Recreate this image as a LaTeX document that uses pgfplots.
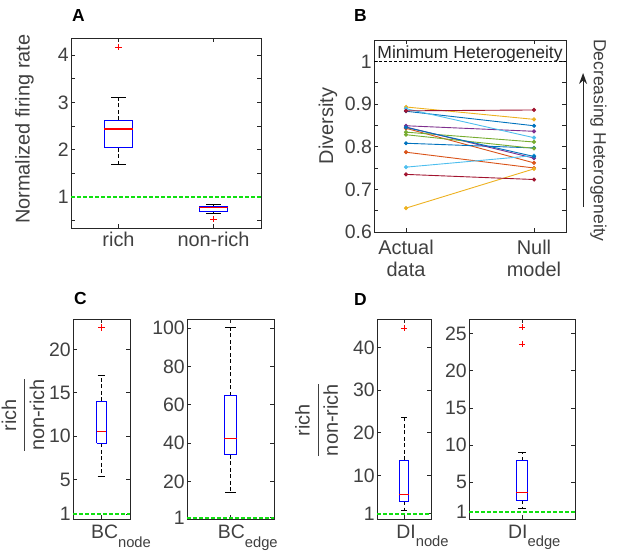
\documentclass[border=0pt]{standalone}
\usepackage{fontspec}
\setmainfont{Liberation Sans}
\usepackage{amsmath}
\usepackage{pgfplots}
\pgfplotsset{compat=1.18}
\usetikzlibrary{arrows.meta}

\definecolor{axc}{HTML}{262626}
\definecolor{txt}{HTML}{404040}
\definecolor{grnline}{HTML}{10E010}
\definecolor{m1}{HTML}{0072BD}
\definecolor{m2}{HTML}{D95319}
\definecolor{m3}{HTML}{EDB120}
\definecolor{m4}{HTML}{7E2F8E}
\definecolor{m5}{HTML}{77AC30}
\definecolor{m6}{HTML}{4DBEEE}
\definecolor{m7}{HTML}{A2142F}

\newcommand{\ticksize}{\fontsize{19.5}{21.5}\selectfont}
\newcommand{\labsize}{\fontsize{20}{22}\selectfont}
\newcommand{\sub}[1]{\raisebox{-8.4bp}{\fontsize{14.8}{16}\selectfont #1}}
\newcommand{\ratio}{$\dfrac{\text{rich}}{\text{non-rich}}$}

\pgfplotsset{
  mlax/.style={
    scale only axis, clip=false, anchor=north west,
    axis line style={draw=axc, line width=0.9bp},
    every tick/.style={draw=axc, line width=0.9bp},
    tick align=inside,
    major tick length=4bp, minor tick length=4bp,
    tick label style={font=\ticksize, text=txt},
    yticklabel style={inner xsep=2bp},
    xticklabel style={inner ysep=4bp},
    label style={font=\labsize, text=txt},
    /pgf/number format/assume math mode=true,
  },
  bx/.style={draw=blue, line width=1.1bp, no marks},
  md/.style={draw=red, line width=1.2bp, no marks},
  wh/.style={draw=black, line width=1bp, dash pattern=on 4bp off 2.5bp, no marks},
  cap/.style={draw=black, line width=1bp, no marks},
  ol/.style={only marks, mark=+, red, mark size=3.2bp, line width=0.9bp},
  unity/.style={draw=grnline, line width=1.7bp, dash pattern=on 3.5bp off 2.5bp, no marks},
  ln/.style={line width=0.9bp, mark=*, mark size=1.6bp, mark options={solid}},
}

\begin{document}
\begin{tikzpicture}
\path[use as bounding box] (0,0) rectangle (640bp,-555bp);

% panel letters
\node[anchor=base west, inner sep=0, font=\fontsize{17.5}{20}\selectfont\bfseries] at (72bp,-21.7bp) {A};
\node[anchor=base west, inner sep=0, font=\fontsize{17.5}{20}\selectfont\bfseries] at (354bp,-21.7bp) {B};
\node[anchor=base west, inner sep=0, font=\fontsize{17.5}{20}\selectfont\bfseries] at (74bp,-304bp) {C};
\node[anchor=base west, inner sep=0, font=\fontsize{17.5}{20}\selectfont\bfseries] at (354bp,-305bp) {D};

% A
\begin{axis}[mlax, at={(71bp,-38bp)}, width=190bp, height=190bp,
  xmin=0.5, xmax=2.5, ymin=0.35, ymax=4.36,
  xtick={1,2}, xticklabels={rich,non-rich},
  xticklabel style={font=\labsize},
  ytick={1,2,3,4}, minor ytick={0.5,1.5,2.5,3.5},
  ylabel={Normalized firing rate},
  ylabel style={at={(axis description cs:-0.245,0.52)}, anchor=center}]
% rich
\addplot[wh] coordinates {(1,2.62)(1,3.11)};
\addplot[wh] coordinates {(1,2.04)(1,1.70)};
\addplot[cap] coordinates {(0.925,1.70)(1.075,1.70)};
\addplot[cap] coordinates {(0.925,3.11)(1.075,3.11)};
\addplot[bx] coordinates {(0.85,2.04)(1.15,2.04)(1.15,2.62)(0.85,2.62)(0.85,2.04)};
\addplot[md] coordinates {(0.85,2.44)(1.15,2.44)};
\addplot[ol] coordinates {(1,4.17)};
% non-rich
\addplot[wh] coordinates {(2,0.81)(2,0.85)};
\addplot[wh] coordinates {(2,0.70)(2,0.66)};
\addplot[cap] coordinates {(1.925,0.66)(2.075,0.66)};
\addplot[cap] coordinates {(1.925,0.85)(2.075,0.85)};
\addplot[bx] coordinates {(1.85,0.70)(2.15,0.70)(2.15,0.81)(1.85,0.81)(1.85,0.70)};
\addplot[md] coordinates {(1.85,0.78)(2.15,0.78)};
\addplot[ol] coordinates {(2,0.54)};
\addplot[unity] coordinates {(0.5,1)(2.5,1)};
\end{axis}

% B
\begin{axis}[mlax, at={(374bp,-40bp)}, width=192bp, height=192bp,
  xmin=0.75, xmax=2.25, ymin=0.6, ymax=1.05,
  xtick={1,2}, xticklabels={{Actual\\data},{Null\\model}},
  xticklabel style={align=center, inner ysep=8bp, font=\fontsize{20}{21.5}\selectfont},
  ytick={0.6,0.7,0.8,0.9,1}, minor ytick={0.65,0.75,0.85,0.95},
  ylabel={Diversity},
  ylabel style={at={(axis description cs:-0.24,0.552)}, anchor=center}]
\addplot[black, line width=0.9bp, dash pattern=on 3bp off 2bp] coordinates {(0.75,1)(2.25,1)};
\addplot[ln, m1] coordinates {(1,0.883)(2,0.849)};
\addplot[ln, m2] coordinates {(1,0.843)(2,0.762)};
\addplot[ln, m3] coordinates {(1,0.893)(2,0.864)};
\addplot[ln, m4] coordinates {(1,0.849)(2,0.836)};
\addplot[ln, m5] coordinates {(1,0.834)(2,0.811)};
\addplot[ln, m6] coordinates {(1,0.889)(2,0.821)};
\addplot[ln, m7] coordinates {(1,0.884)(2,0.886)};
\addplot[ln, m1] coordinates {(1,0.808)(2,0.797)};
\addplot[ln, m2] coordinates {(1,0.787)(2,0.750)};
\addplot[ln, m3] coordinates {(1,0.656)(2,0.748)};
\addplot[ln, m4] coordinates {(1,0.846)(2,0.773)};
\addplot[ln, m5] coordinates {(1,0.828)(2,0.796)};
\addplot[ln, m6] coordinates {(1,0.752)(2,0.779)};
\addplot[ln, m7] coordinates {(1,0.735)(2,0.723)};
\addplot[ln, m1] coordinates {(1,0.845)(2,0.777)};
\node[anchor=base, inner sep=0, font=\fontsize{17.6}{20}\selectfont, text=black!85]
  at (axis cs:1.5,1) [yshift=2.5bp] {Minimum Heterogeneity};
\draw[-{Stealth[length=11bp,width=8bp]}, line width=1.1bp, draw=axc]
  (rel axis cs:1.089,0.13) -- (rel axis cs:1.089,0.828);
\node[rotate=-90, inner sep=0, font=\fontsize{17.6}{20}\selectfont, text=txt]
  at (rel axis cs:1.169,0.477) {Decreasing Heterogeneity};
\end{axis}

% C left
\begin{axis}[mlax, at={(73bp,-319bp)}, width=57bp, height=200bp,
  xmin=0.5, xmax=1.5, ymin=0.45, ymax=23.5,
  xtick={1}, xticklabels={BC\sub{node}},
  xticklabel style={xshift=19.5bp, inner ysep=6bp},
  ytick={1,5,10,15,20},
  ylabel={\ratio},
  ylabel style={at={(axis description cs:-0.877,0.52)}, anchor=center}]
\addplot[wh] coordinates {(1,14.03)(1,17.0)};
\addplot[wh] coordinates {(1,9.16)(1,5.3)};
\addplot[cap] coordinates {(0.93,5.3)(1.07,5.3)};
\addplot[cap] coordinates {(0.93,17.0)(1.07,17.0)};
\addplot[bx] coordinates {(0.9125,9.16)(1.0875,9.16)(1.0875,14.03)(0.9125,14.03)(0.9125,9.16)};
\addplot[md] coordinates {(0.9125,10.5)(1.0875,10.5)};
\addplot[ol] coordinates {(1,22.5)};
\addplot[unity] coordinates {(0.5,1)(1.5,1)};
\end{axis}

% C right
\begin{axis}[mlax, at={(187bp,-319bp)}, width=87bp, height=200bp,
  xmin=0.5, xmax=1.5, ymin=0.44, ymax=104.7,
  xtick={1}, xticklabels={BC\sub{edge}},
  xticklabel style={xshift=17.3bp, inner ysep=6bp},
  ytick={1,20,40,60,80,100}]
\addplot[wh] coordinates {(1,64.7)(1,100.3)};
\addplot[wh] coordinates {(1,33.9)(1,14.3)};
\addplot[cap] coordinates {(0.9425,14.3)(1.0575,14.3)};
\addplot[cap] coordinates {(0.9425,100.3)(1.0575,100.3)};
\addplot[bx] coordinates {(0.9275,33.9)(1.0725,33.9)(1.0725,64.7)(0.9275,64.7)(0.9275,33.9)};
\addplot[md] coordinates {(0.9275,42.4)(1.0725,42.4)};
\addplot[unity] coordinates {(0.5,1)(1.5,1)};
\end{axis}

% D left
\begin{axis}[mlax, at={(377bp,-319bp)}, width=54bp, height=200bp,
  xmin=0.5, xmax=1.5, ymin=-0.2, ymax=46.7,
  xtick={1}, xticklabels={DI\sub{node}},
  xticklabel style={xshift=18.5bp, inner ysep=6bp},
  ytick={1,10,20,30,40},
  ylabel={\ratio},
  ylabel style={at={(axis description cs:-1.117,0.495)}, anchor=center}]
\addplot[wh] coordinates {(1,13.6)(1,23.5)};
\addplot[wh] coordinates {(1,4.0)(1,1.8)};
\addplot[cap] coordinates {(0.9475,1.8)(1.0525,1.8)};
\addplot[cap] coordinates {(0.9475,23.5)(1.0525,23.5)};
\addplot[bx] coordinates {(0.9125,4.0)(1.0875,4.0)(1.0875,13.6)(0.9125,13.6)(0.9125,4.0)};
\addplot[md] coordinates {(0.9125,5.6)(1.0875,5.6)};
\addplot[ol] coordinates {(1,44.6)};
\addplot[unity] coordinates {(0.5,1)(1.5,1)};
\end{axis}

% D right
\begin{axis}[mlax, at={(469bp,-319bp)}, width=106bp, height=200bp,
  xmin=0.5, xmax=1.5, ymin=0.03, ymax=27,
  xtick={1}, xticklabels={DI\sub{edge}},
  xticklabel style={xshift=12.3bp, inner ysep=6bp},
  ytick={1,5,10,15,20,25}]
\addplot[wh] coordinates {(1,7.9)(1,9.0)};
\addplot[wh] coordinates {(1,2.57)(1,1.4)};
\addplot[cap] coordinates {(0.965,1.4)(1.035,1.4)};
\addplot[cap] coordinates {(0.965,9.0)(1.035,9.0)};
\addplot[bx] coordinates {(0.945,2.57)(1.055,2.57)(1.055,7.9)(0.945,7.9)(0.945,2.57)};
\addplot[md] coordinates {(0.945,3.65)(1.055,3.65)};
\addplot[ol] coordinates {(1,25.9)(1,23.6)};
\addplot[unity] coordinates {(0.5,1)(1.5,1)};
\end{axis}
\end{tikzpicture}
\end{document}
